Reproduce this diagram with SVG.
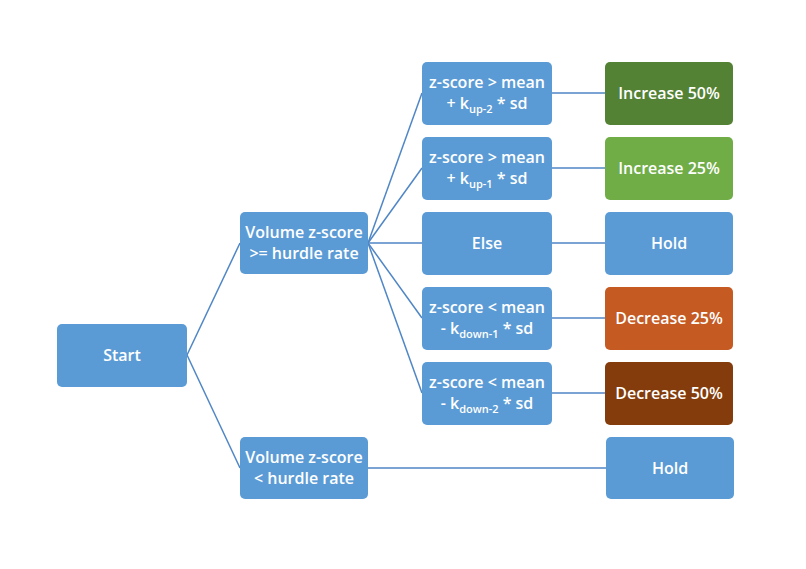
<svg xmlns="http://www.w3.org/2000/svg" width="806" height="569" viewBox="0 0 806 569">
<style>
.n{fill:#5B9BD5;}
.t{font-family:"Open Sans","Liberation Sans",sans-serif;font-size:16px;font-weight:600;fill:#fff;text-anchor:middle;}
.s{font-size:11px;}
.c line{stroke:#4F86C6;stroke-width:1.5;}
</style>
<rect width="806" height="569" fill="#fff"/>
<g class="c">
<line x1="187" y1="355" x2="240" y2="243"/>
<line x1="187" y1="355" x2="240" y2="468"/>
<line x1="368" y1="243" x2="422" y2="93"/>
<line x1="368" y1="243" x2="422" y2="168"/>
<line x1="368" y1="243" x2="422" y2="243"/>
<line x1="368" y1="243" x2="422" y2="318"/>
<line x1="368" y1="243" x2="422" y2="393"/>
<line x1="552" y1="93" x2="605" y2="93"/>
<line x1="552" y1="168" x2="605" y2="168"/>
<line x1="552" y1="243" x2="605" y2="243"/>
<line x1="552" y1="318" x2="605" y2="318"/>
<line x1="552" y1="393" x2="605" y2="393"/>
<line x1="368" y1="468" x2="606" y2="468"/>
</g>
<g id="start"><rect class="n" x="57" y="324" width="130" height="63" rx="5"/><text class="t" x="122" y="361">Start</text></g>
<g id="vol-ge"><rect class="n" x="240" y="212" width="128" height="62" rx="5"/><text class="t" x="304" y="238">Volume z-score</text><text class="t" x="304" y="259">&gt;= hurdle rate</text></g>
<g id="vol-lt"><rect class="n" x="240" y="437" width="128" height="62" rx="5"/><text class="t" x="304" y="463">Volume z-score</text><text class="t" x="304" y="484">&lt; hurdle rate</text></g>
<g id="c1"><rect class="n" x="422" y="62" width="130" height="63" rx="5"/><text class="t" x="487" y="88">z-score &gt; mean</text><text class="t" x="487" y="109">+ k<tspan class="s" dy="4">up-2</tspan><tspan dy="-4"> * sd</tspan></text></g>
<g id="c2"><rect class="n" x="422" y="137" width="130" height="63" rx="5"/><text class="t" x="487" y="163">z-score &gt; mean</text><text class="t" x="487" y="184">+ k<tspan class="s" dy="4">up-1</tspan><tspan dy="-4"> * sd</tspan></text></g>
<g id="c3"><rect class="n" x="422" y="212" width="130" height="63" rx="5"/><text class="t" x="487" y="249">Else</text></g>
<g id="c4"><rect class="n" x="422" y="287" width="130" height="63" rx="5"/><text class="t" x="487" y="313">z-score &lt; mean</text><text class="t" x="487" y="334">- k<tspan class="s" dy="4">down-1</tspan><tspan dy="-4"> * sd</tspan></text></g>
<g id="c5"><rect class="n" x="422" y="362" width="130" height="63" rx="5"/><text class="t" x="487" y="388">z-score &lt; mean</text><text class="t" x="487" y="409">- k<tspan class="s" dy="4">down-2</tspan><tspan dy="-4"> * sd</tspan></text></g>
<g id="r1"><rect x="605" y="62" width="128" height="63" rx="5" fill="#548235"/><text class="t" x="669" y="99">Increase 50%</text></g>
<g id="r2"><rect x="605" y="137" width="128" height="63" rx="5" fill="#70AD47"/><text class="t" x="669" y="174">Increase 25%</text></g>
<g id="r3"><rect class="n" x="605" y="212" width="128" height="63" rx="5"/><text class="t" x="669" y="249">Hold</text></g>
<g id="r4"><rect x="605" y="287" width="128" height="63" rx="5" fill="#C55A23"/><text class="t" x="669" y="324">Decrease 25%</text></g>
<g id="r5"><rect x="605" y="362" width="128" height="63" rx="5" fill="#843C0C"/><text class="t" x="669" y="399">Decrease 50%</text></g>
<g id="r6"><rect class="n" x="606" y="437" width="128" height="62" rx="5"/><text class="t" x="670" y="474">Hold</text></g>
</svg>
